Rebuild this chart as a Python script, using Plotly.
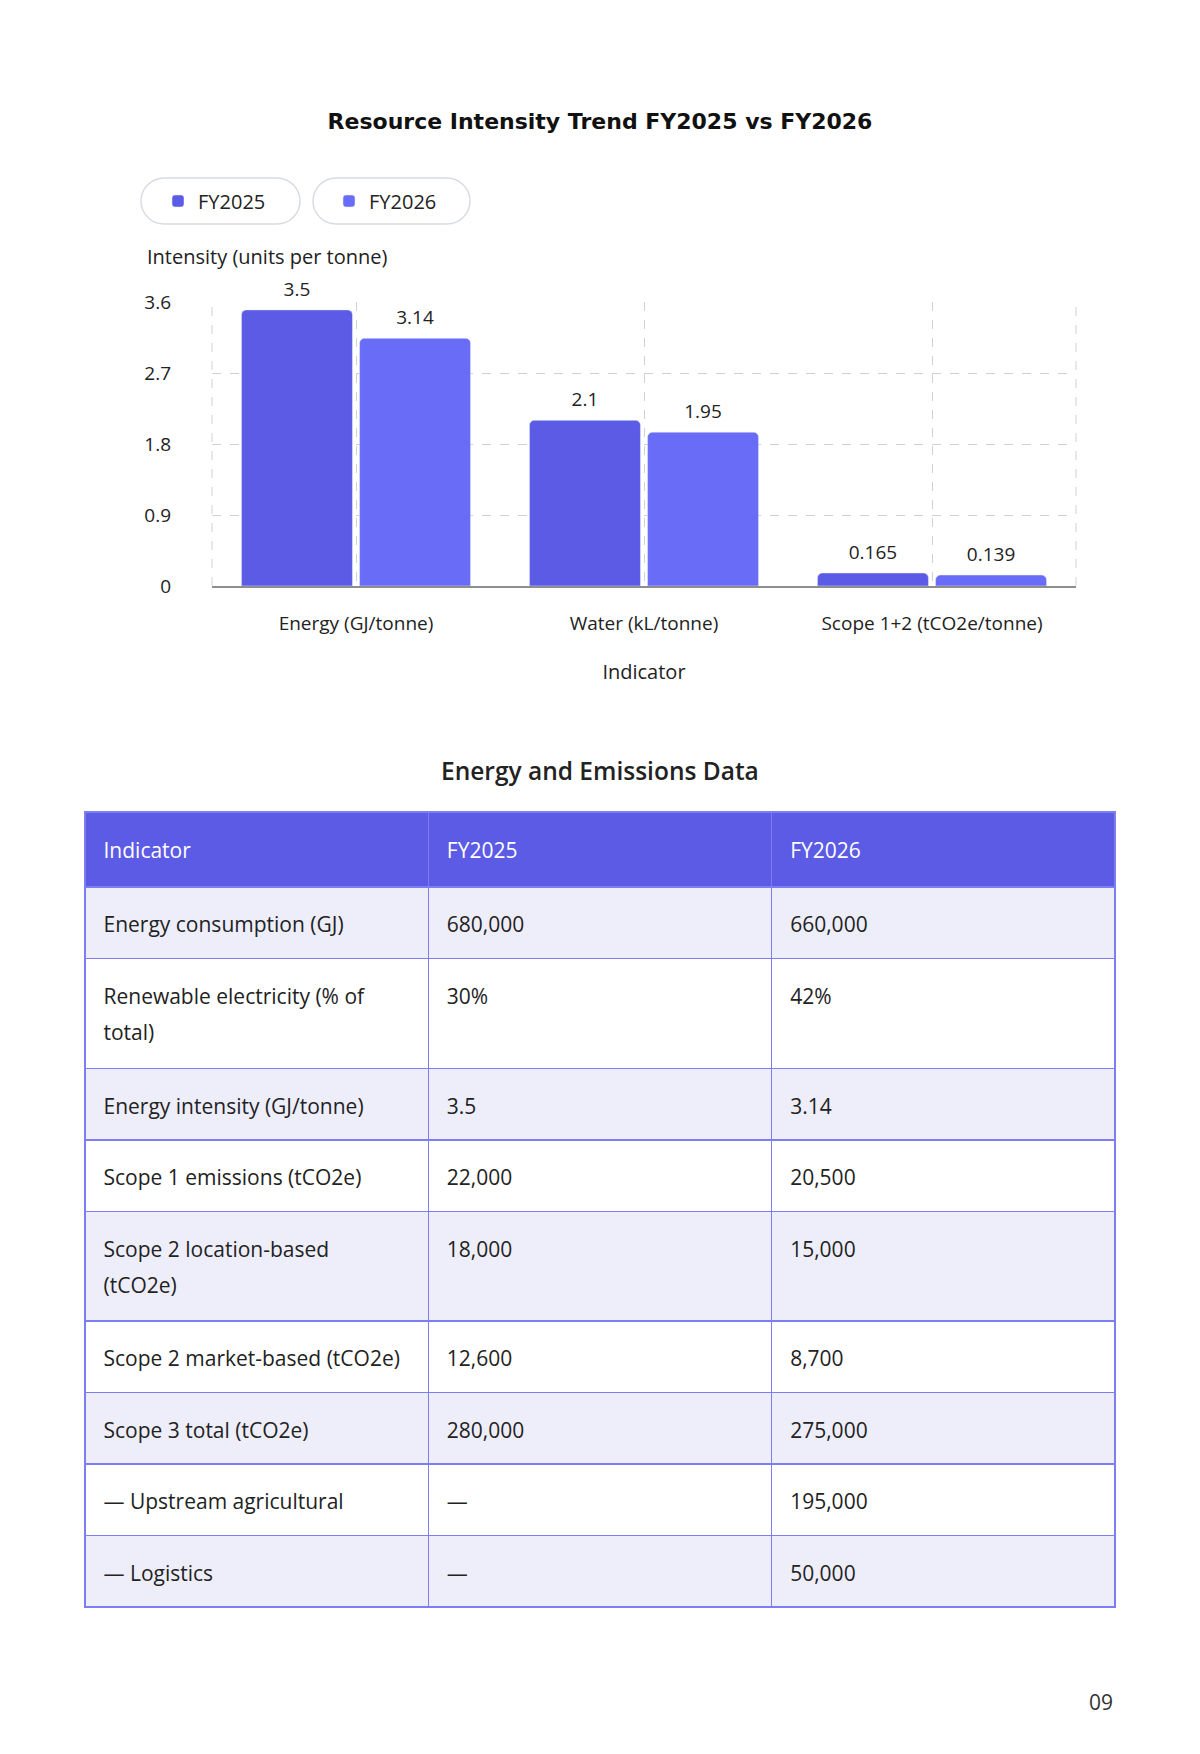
import plotly.graph_objects as go

# ---------------- data ----------------
categories = ["Energy (GJ/tonne)", "Water (kL/tonne)", "Scope 1+2 (tCO2e/tonne)"]
series_names = ["FY2025", "FY2026"]
fy2025 = [3.5, 2.1, 0.165]
fy2026 = [3.14, 1.95, 0.139]
y_tickvals = [0, 0.9, 1.8, 2.7, 3.6]
y_ticktext = ["0", "0.9", "1.8", "2.7", "3.6"]

table_header = ["Indicator", "FY2025", "FY2026"]
table_indicator = [
    "Energy consumption (GJ)",
    "Renewable electricity (% of<br>total)",
    "Energy intensity (GJ/tonne)",
    "Scope 1 emissions (tCO2e)",
    "Scope 2 location-based<br>(tCO2e)",
    "Scope 2 market-based (tCO2e)",
    "Scope 3 total (tCO2e)",
    "— Upstream agricultural",
    "— Logistics",
]
table_fy2025 = ["680,000", "30%", "3.5", "22,000", "18,000", "12,600", "280,000", "—", "—"]
table_fy2026 = ["660,000", "42%", "3.14", "20,500", "15,000", "8,700", "275,000", "195,000", "50,000"]

# ---------------- style ----------------
W, H = 1200, 1754
C25 = "#5B5BE6"
C26 = "#696CF7"
BORDER = "#7C7EF2"
LAV = "#EEEEFB"
TXT = "#222222"
FONT = "Open Sans, Lato, sans-serif"


def px(x):
    return x / W


def py(y):
    return 1 - y / H


fig = go.Figure()

for name, vals, col in [(series_names[0], fy2025, C25), (series_names[1], fy2026, C26)]:
    fig.add_trace(go.Bar(
        name=name, x=categories, y=vals,
        marker=dict(color=col, cornerradius=5),
        text=vals,
        texttemplate="<span style='font-size:19px'>%{y}</span><br> ",
        textposition="outside",
        textfont=dict(size=7, color=TXT, family=FONT),
        constraintext="none",
        cliponaxis=False,
    ))


# legend pills (rounded rectangles, built from cubic curves)
def pill(x0, x1, y0, y1):
    r = (y1 - y0) / 2
    k = 0.5523 * r
    pts = [
        ("M", [(x0 + r, y0)]),
        ("L", [(x1 - r, y0)]),
        ("C", [(x1 - r + k, y0), (x1, y0 + r - k), (x1, y0 + r)]),
        ("C", [(x1, y0 + r + k), (x1 - r + k, y1), (x1 - r, y1)]),
        ("L", [(x0 + r, y1)]),
        ("C", [(x0 + r - k, y1), (x0, y1 - r + k), (x0, y0 + r)]),
        ("C", [(x0, y0 + r - k), (x0 + r - k, y0), (x0 + r, y0)]),
    ]
    out = []
    for cmd, ps in pts:
        out.append(cmd + " " + " ".join(f"{px(a):.5f},{py(b):.5f}" for a, b in ps))
    return " ".join(out) + " Z"


PILL_LINE = dict(color="#D8DCE2", width=1.5)
shapes = [
    dict(type="path", xref="paper", yref="paper", path=pill(141, 300, 178, 224),
         line=PILL_LINE, fillcolor="white", layer="below"),
    dict(type="path", xref="paper", yref="paper", path=pill(313, 470, 178, 224),
         line=PILL_LINE, fillcolor="white", layer="below"),
    # dashed plot borders left/right
    dict(type="line", xref="x domain", yref="y domain", x0=0, x1=0, y0=0, y1=1,
         line=dict(color="#D0D0D0", width=1, dash="dash"), layer="below"),
    dict(type="line", xref="x domain", yref="y domain", x0=1, x1=1, y0=0, y1=1,
         line=dict(color="#D0D0D0", width=1, dash="dash"), layer="below"),
]

# ---------------- table ----------------
GLYPH = 21
PAD = "\u2002"
LEAD = "<span style='font-size:1px'>\u00a0</span><br>"
TAIL = "<span style='font-size:68.5px'>\u00a0</span>"


def cell_html(s, tall_tail=False):
    lines = s.split("<br>")
    html = "<br>".join(f"<span style='font-size:{GLYPH}px'>{PAD}{ln}</span>" for ln in lines)
    if tall_tail and len(lines) > 1:
        html += TAIL
    return LEAD + html


row_fills = [LAV if i % 2 == 0 else "white" for i in range(len(table_indicator))]

fig.add_trace(go.Table(
    domain=dict(x=[px(85), px(1115)], y=[py(1650), py(812)]),
    columnwidth=[1, 1, 1],
    header=dict(
        values=[cell_html(h) for h in table_header],
        fill_color=C25,
        line=dict(color=BORDER, width=1.5),
        font=dict(color="white", size=28.2, family=FONT),
        align="left",
        height=75,
    ),
    cells=dict(
        values=[[cell_html(v, True) for v in table_indicator],
                [cell_html(v) for v in table_fy2025],
                [cell_html(v) for v in table_fy2026]],
        fill_color=[row_fills] * 3,
        line=dict(color=BORDER, width=1.5),
        font=dict(color=TXT, size=28, family=FONT),
        align="left",
        height=71.5,
    ),
))

annotations = [
    dict(text="Intensity (units per tonne)", xref="paper", yref="paper",
         x=px(145), y=py(257), xanchor="left", yanchor="middle", showarrow=False,
         font=dict(size=20, color=TXT, family=FONT, weight=500)),
    dict(text="Energy and Emissions Data", xref="paper", yref="paper",
         x=0.5, y=py(770), xanchor="center", yanchor="middle", showarrow=False,
         font=dict(size=24.5, color=TXT, family=FONT, weight=600)),
    dict(text="09", xref="paper", yref="paper",
         x=px(1115), y=py(1702), xanchor="right", yanchor="middle", showarrow=False,
         font=dict(size=21, color="#333333", family=FONT)),
]

fig.update_layout(
    width=W, height=H,
    margin=dict(l=0, r=0, t=0, b=0, autoexpand=False),
    paper_bgcolor="white", plot_bgcolor="white",
    font=dict(family=FONT, color=TXT),
    title=dict(text="Resource Intensity Trend FY2025 vs FY2026", x=0.5, xanchor="center",
               y=py(121), yanchor="middle",
               font=dict(family="DejaVu Sans, sans-serif", size=22, weight=700, color="#111111")),
    barmode="group", bargap=0.18, bargroupgap=0.06,
    showlegend=True,
    legend=dict(orientation="h", x=px(158), xanchor="left", y=py(201), yanchor="middle",
                entrywidth=126, entrywidthmode="pixels", bgcolor="rgba(0,0,0,0)",
                font=dict(size=20, color=TXT, family=FONT)),
    xaxis=dict(domain=[px(212), px(1076)], type="category", automargin=False,
               showgrid=True, gridcolor="#D0D0D0", griddash="dash", gridwidth=1,
               showline=True, linecolor="#8E8E8E", linewidth=1.5,
               ticks="", ticklabelstandoff=19,
               tickfont=dict(size=19, color=TXT, family=FONT),
               title=dict(text="Indicator", standoff=30,
                          font=dict(size=20, color=TXT, family=FONT, weight=500))),
    yaxis=dict(domain=[py(586), py(302)], range=[0, 3.6], automargin=False,
               tickvals=y_tickvals, ticktext=y_ticktext,
               showgrid=True, gridcolor="#D0D0D0", griddash="dash", gridwidth=1,
               zeroline=False, ticks="", ticklabelstandoff=40,
               tickfont=dict(size=19, color=TXT, family=FONT)),
    shapes=shapes,
    annotations=annotations,
)

fig.write_html("out.html")
